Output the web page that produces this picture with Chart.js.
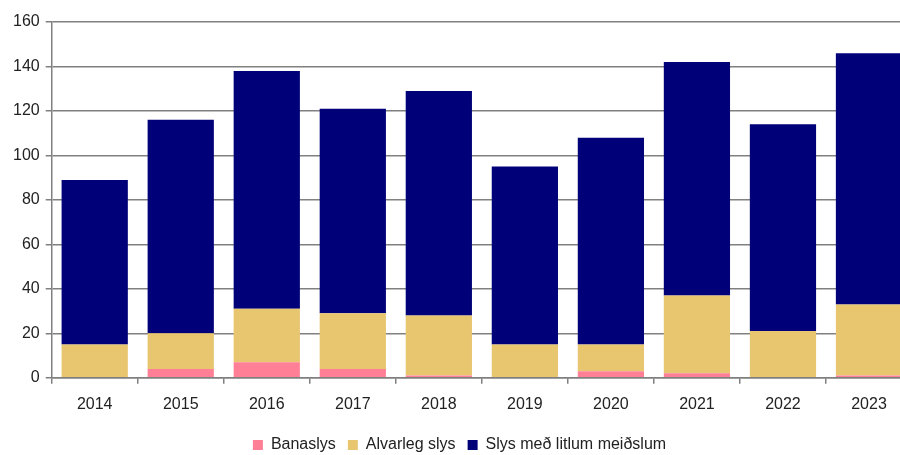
<!DOCTYPE html>
<html>
<head>
<meta charset="utf-8">
<script src="https://cdn.jsdelivr.net/npm/chart.js@4"></script>
<style>
  html, body { margin: 0; padding: 0; background: #fff; overflow: hidden; }
  #wrap { width: 916px; height: 463px; position: relative; }
</style>
</head>
<body>
<div id="wrap"><canvas id="chart"></canvas></div>
<script>
// Data
const years = ['2014', '2015', '2016', '2017', '2018', '2019', '2020', '2021', '2022', '2023'];
const banaslys = [0, 4, 7, 4, 1, 0, 3, 2, 0, 1];
const alvarlegSlys = [15, 16, 24, 25, 27, 15, 12, 35, 21, 32];
const litlumMeidslum = [74, 96, 107, 92, 101, 80, 93, 105, 93, 113];
const yTicks = [0, 20, 40, 60, 80, 100, 120, 140, 160];

const font = { family: '"Liberation Sans", Arial, sans-serif', size: 16 };

new Chart(document.getElementById('chart'), {
    type: 'bar',
    data: {
        labels: years,
        datasets: [
            { label: 'Banaslys', data: banaslys, backgroundColor: '#ff8096' },
            { label: 'Alvarleg slys', data: alvarlegSlys, backgroundColor: '#e8c56f' },
            { label: 'Slys með litlum meiðslum', data: litlumMeidslum, backgroundColor: '#000078' }
        ]
    },
    options: {
        animation: false,
        responsive: true,
        maintainAspectRatio: false,
        layout: { padding: { top: 22, right: 4, left: 7, bottom: 0 } },
        datasets: { bar: { categoryPercentage: 0.77, barPercentage: 1.0 } },
        scales: {
            x: {
                stacked: true,
                grid: { display: true, drawOnChartArea: false, offset: true, color: '#808080', lineWidth: 1.5, tickLength: 6 },
                border: { color: '#808080', width: 1.5 },
                ticks: { color: '#222', font: font, padding: 11 }
            },
            y: {
                stacked: true,
                min: 0,
                max: 160,
                afterBuildTicks: axis => { axis.ticks = yTicks.map(v => ({ value: v })); },
                grid: { color: '#808080', lineWidth: 1.5, tickLength: 6 },
                border: { color: '#808080', width: 1.5 },
                ticks: { color: '#222', font: font, padding: 6 }
            }
        },
        plugins: {
            legend: {
                position: 'bottom',
                labels: { color: '#222', font: font, boxWidth: 10, boxHeight: 10, padding: 12 }
            },
            tooltip: { enabled: false }
        }
    }
});
</script>
</body>
</html>
